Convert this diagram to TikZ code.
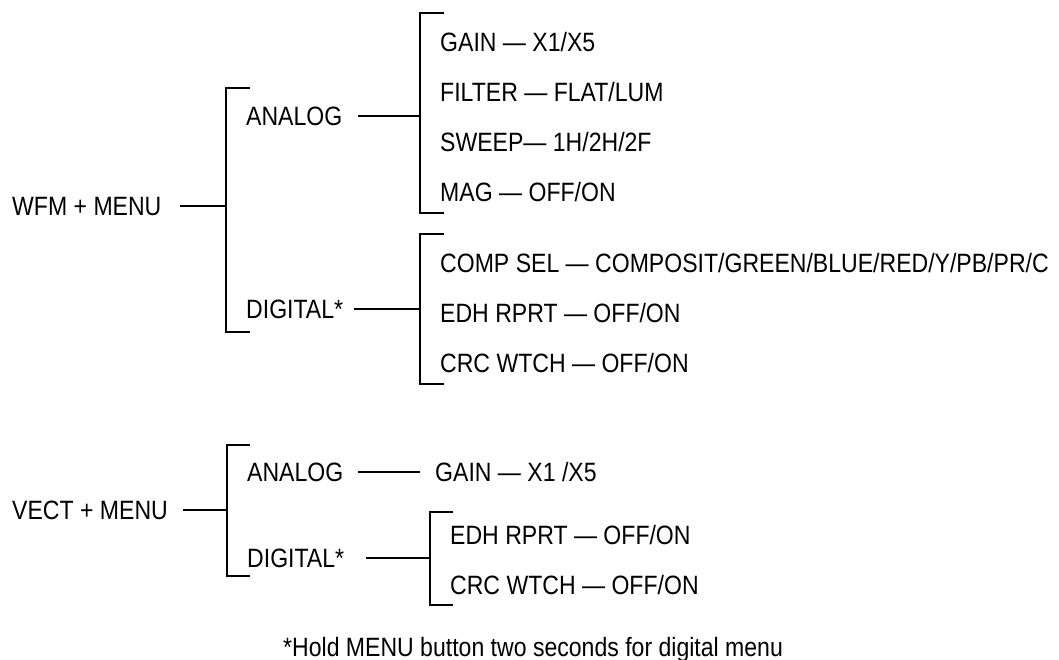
\documentclass[tikz,border=0pt]{standalone}
\usepackage{fontspec}
\setmainfont{Liberation Sans}[FakeStretch=0.87]
\usepackage{tikz}
\usetikzlibrary{calc}
\tikzset{
  label/.style={anchor=west, inner sep=0pt, text height=19pt, text depth=0pt, font=\fontsize{26.5}{30}\selectfont},
  link/.style={line width=1.3pt},
  bracket/.style={line width=1.3pt}
}
\begin{document}
\begin{tikzpicture}[x=1pt, y=-1pt]
\useasboundingbox (0,0) rectangle (1059,660);
\node[label] (wfm) at (12,206) {WFM + MENU};
\node[label] (wfmAnalog) at (246,116) {ANALOG};
\node[label] (wfmDigital) at (246,309) {DIGITAL*};
\node[label] (gain) at (440,42) {GAIN --- X1/X5};
\node[label] (filter) at (440,92) {FILTER --- FLAT/LUM};
\node[label] (sweep) at (440,142) {SWEEP--- 1H/2H/2F};
\node[label] (mag) at (440,192) {MAG --- OFF/ON};
\node[label] (compsel) at (440,263) {COMP SEL --- COMPOSIT/GREEN/BLUE/RED/Y/PB/PR/C};
\node[label] (edh) at (440,313) {EDH RPRT --- OFF/ON};
\node[label] (crc) at (440,363) {CRC WTCH --- OFF/ON};
\node[label] (vect) at (12,510) {VECT + MENU};
\node[label] (vectAnalog) at (247,472) {ANALOG};
\node[label] (vectGain) at (435,472) {GAIN --- X1 /X5};
\node[label] (vectDigital) at (247,558) {DIGITAL*};
\node[label] (vectEdh) at (450,535) {EDH RPRT --- OFF/ON};
\node[label] (vectCrc) at (450,585) {CRC WTCH --- OFF/ON};
\node[label] (note) at (283,647) {*Hold MENU button two seconds for digital menu};
\coordinate (wfmTop) at (226,88);
\coordinate (wfmBot) at (226,332);
\coordinate (anTop) at (420,13);
\coordinate (anBot) at (420,213);
\coordinate (digTop) at (420,234);
\coordinate (digBot) at (420,384);
\coordinate (vectTop) at (227,445);
\coordinate (vectBot) at (227,576);
\coordinate (vdigTop) at (430,512);
\coordinate (vdigBot) at (430,605);
\draw[bracket] ([xshift=24pt]wfmTop) -- (wfmTop) -- (wfmBot) -- ([xshift=24pt]wfmBot);
\draw[bracket] ([xshift=24pt]anTop) -- (anTop) -- (anBot) -- ([xshift=24pt]anBot);
\draw[bracket] ([xshift=24pt]digTop) -- (digTop) -- (digBot) -- ([xshift=24pt]digBot);
\draw[bracket] ([xshift=23pt]vectTop) -- (vectTop) -- (vectBot) -- ([xshift=23pt]vectBot);
\draw[bracket] ([xshift=23pt]vdigTop) -- (vdigTop) -- (vdigBot) -- ([xshift=23pt]vdigBot);
\draw[link] ([xshift=18pt]wfm.east) -- (wfm.east -| wfmTop);
\draw[link] ([xshift=16pt]wfmAnalog.east) -- (wfmAnalog.east -| anTop);
\draw[link] ([xshift=11pt]wfmDigital.east) -- (wfmDigital.east -| digTop);
\draw[link] ([xshift=15pt]vect.east) -- (vect.east -| vectTop);
\draw[link] ([xshift=15pt]vectAnalog.east) -- ([xshift=-15pt]vectGain.west);
\draw[link] ([xshift=22pt]vectDigital.east) -- (vectDigital.east -| vdigTop);
\end{tikzpicture}
\end{document}
